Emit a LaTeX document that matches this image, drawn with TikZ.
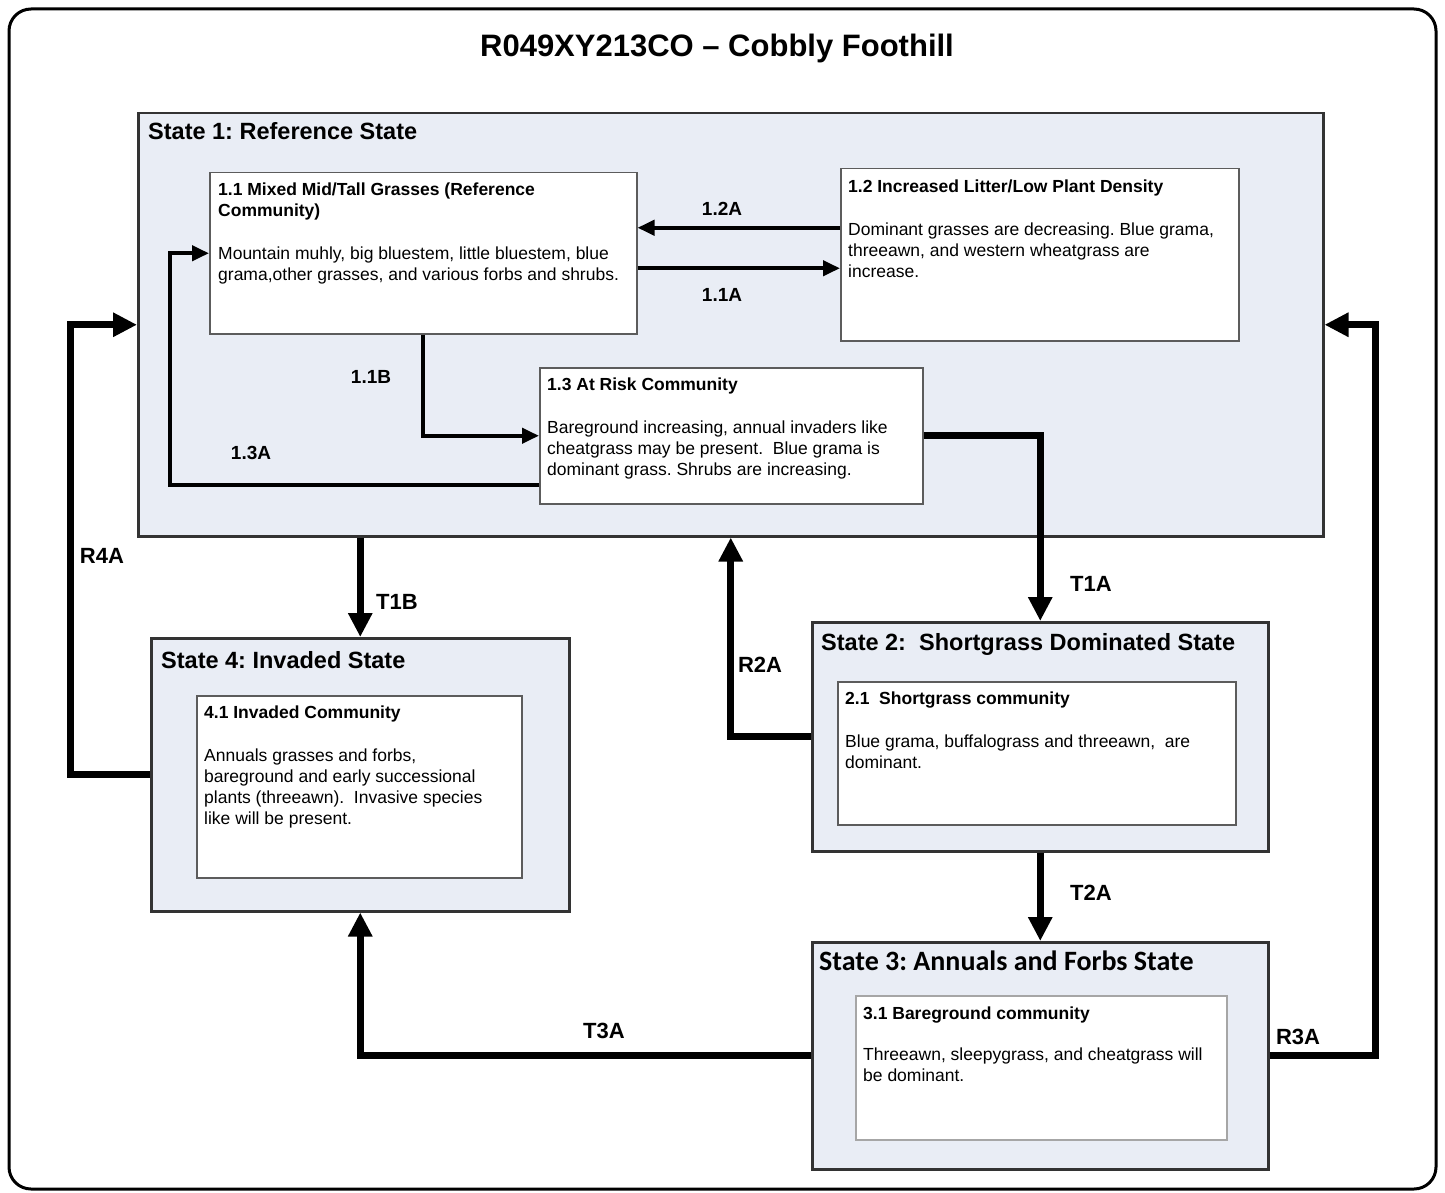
\documentclass[tikz,border=0pt]{standalone}
\usepackage{fontspec}
\setmainfont{Liberation Sans}
\newfontfamily\calibrifont{Carlito}
\usetikzlibrary{arrows.meta,positioning}
\frenchspacing

\definecolor{statefill}{HTML}{E9EDF5}
\definecolor{boxline}{HTML}{5C5C5C}

\tikzset{
  statebox/.style={draw=black!80, line width=2.5pt, fill=statefill, anchor=north west, inner sep=0pt},
  commbox/.style={draw=boxline, line width=1.5pt, fill=white, anchor=north west, inner sep=0pt},
  statetitle/.style={anchor=base west, inner sep=0pt, font=\fontsize{23.5}{28}\selectfont\bfseries},
  commtext/.style={anchor=north west, inner sep=0pt, align=left, font=\fontsize{17.5}{21}\selectfont},
  thin arrow/.style={line width=4pt, -{Triangle[length=17pt,width=15pt]}},
  thick arrow/.style={line width=7pt, -{Triangle[length=24pt,width=23pt]}},
  small label/.style={inner sep=0pt, font=\fontsize{19}{22}\selectfont\bfseries},
  big label/.style={inner sep=0pt, font=\fontsize{22}{26}\selectfont\bfseries},
}

\begin{document}
\begin{tikzpicture}[x=1pt, y=-1pt, line join=miter]
  \useasboundingbox (0,0) rectangle (1445,1193);
  \draw[line width=3pt, rounded corners=22pt] (9,9) rectangle (1436,1189);

  \node[inner sep=0pt, font=\fontsize{31}{36}\selectfont\bfseries] (title) at (717,48) {R049XY213CO – Cobbly Foothill};

  % states
  \node[statebox, minimum width=1185pt, minimum height=423pt] (s1) at (137,112) {};
  \node[statebox, minimum width=456pt, minimum height=229pt] (s2) at (811,621) {};
  \node[statebox, minimum width=456pt, minimum height=227pt] (s3) at (811,941) {};
  \node[statebox, minimum width=418pt, minimum height=273pt] (s4) at (150,637) {};

  \node[statetitle, xshift=11pt, yshift=-28pt] (s1t) at (s1.north west) {State 1: Reference State};
  \node[statetitle, xshift=10pt, yshift=-29pt] (s2t) at (s2.north west) {State 2:\ \ Shortgrass Dominated State};
  \node[statetitle, font=\fontsize{28}{32}\selectfont\calibrifont\bfseries, xshift=8pt, yshift=-29pt] (s3t) at (s3.north west) {State 3: Annuals and Forbs State};
  \node[statetitle, xshift=11pt, yshift=-31pt] (s4t) at (s4.north west) {State 4: Invaded State};

  % communities
  \node[commbox, minimum width=427pt, minimum height=161pt] (c11) at (209,172) {};
  \node[commbox, minimum width=398pt, minimum height=172pt] (c12) at (840,168) {};
  \node[commbox, minimum width=383pt, minimum height=136pt] (c13) at (539,367) {};
  \node[commbox, minimum width=398pt, minimum height=143pt] (c21) at (837,681) {};
  \node[commbox, draw=black!35, minimum width=371pt, minimum height=144pt] (c31) at (855,995) {};
  \node[commbox, minimum width=325pt, minimum height=182pt] (c41) at (196,695) {};

  \node[commtext, xshift=9pt, yshift=-11pt] (t11) at (c11.north west) {\textbf{1.1 Mixed Mid/Tall Grasses (Reference}\\\textbf{Community)}\\[22pt]Mountain muhly, big bluestem, little bluestem, blue\\grama,other grasses, and various forbs and shrubs.};
  \node[commtext, xshift=8pt, yshift=-12pt] (t12) at (c12.north west) {\textbf{1.2 Increased Litter/Low Plant Density}\\[22pt]Dominant grasses are decreasing. Blue grama,\\threeawn, and western wheatgrass are\\increase.};
  \node[commtext, xshift=8pt, yshift=-11pt] (t13) at (c13.north west) {\textbf{1.3 At Risk Community}\\[22pt]Bareground increasing, annual invaders like\\cheatgrass may be present.\ \ Blue grama is\\dominant grass. Shrubs are increasing.};
  \node[commtext, xshift=8pt, yshift=-11pt] (t21) at (c21.north west) {\textbf{2.1\ \ Shortgrass community}\\[22pt]Blue grama, buffalograss and threeawn,\ \ are\\dominant.};
  \node[commtext, xshift=8pt, yshift=-12pt] (t31) at (c31.north west) {\textbf{3.1 Bareground community}\\[20pt]Threeawn, sleepygrass, and cheatgrass will\\be dominant.};
  \node[commtext, xshift=8pt, yshift=-11pt] (t41) at (c41.north west) {\textbf{4.1 Invaded Community}\\[22pt]Annuals grasses and forbs,\\bareground and early successional\\plants (threeawn).\ \ Invasive species\\like will be present.};

  % pathways inside state 1
  \draw[thin arrow] ([yshift=27pt]c12.west) -- ([yshift=27pt]c12.west -| c11.east);
  \draw[thin arrow] ([yshift=-15pt]c11.east) -- ([yshift=-15pt]c11.east -| c12.west);
  \draw[thin arrow] (c11.south) |- (c13.west);
  \draw[thin arrow] ([yshift=-49pt]c13.west) -| ([xshift=-39pt]c11.west) -- (c11.west);

  \node[small label] (l12a) at (722,209) {1.2A};
  \node[small label] (l11a) at (722,295) {1.1A};
  \node[small label] (l11b) at (371,377) {1.1B};
  \node[small label] (l13a) at (251,453) {1.3A};

  % transitions and restorations
  \draw[thick arrow] (s4.north |- s1.south) -- (s4.north);
  \draw[thick arrow] (c13.east) -| (s2.north);
  \draw[thick arrow] (s2.west) -| (s1.south);
  \draw[thick arrow] (s2.south) -- (s3.north);
  \draw[thick arrow] (s3.west) -| (s4.south);
  \draw[thick arrow] (s3.east) -| ([xshift=51pt]s1.east) -- (s1.east);
  \draw[thick arrow] (s4.west) -| ([xshift=-67pt]s1.west) -- (s1.west);

  \node[big label] (t1b) at (397,602) {T1B};
  \node[big label] (t1a) at (1091,584) {T1A};
  \node[big label] (r2a) at (760,665) {R2A};
  \node[big label] (t2a) at (1091,893) {T2A};
  \node[big label] (t3a) at (604,1031) {T3A};
  \node[big label] (r3a) at (1298,1037) {R3A};
  \node[big label] (r4a) at (102,556) {R4A};
\end{tikzpicture}
\end{document}
